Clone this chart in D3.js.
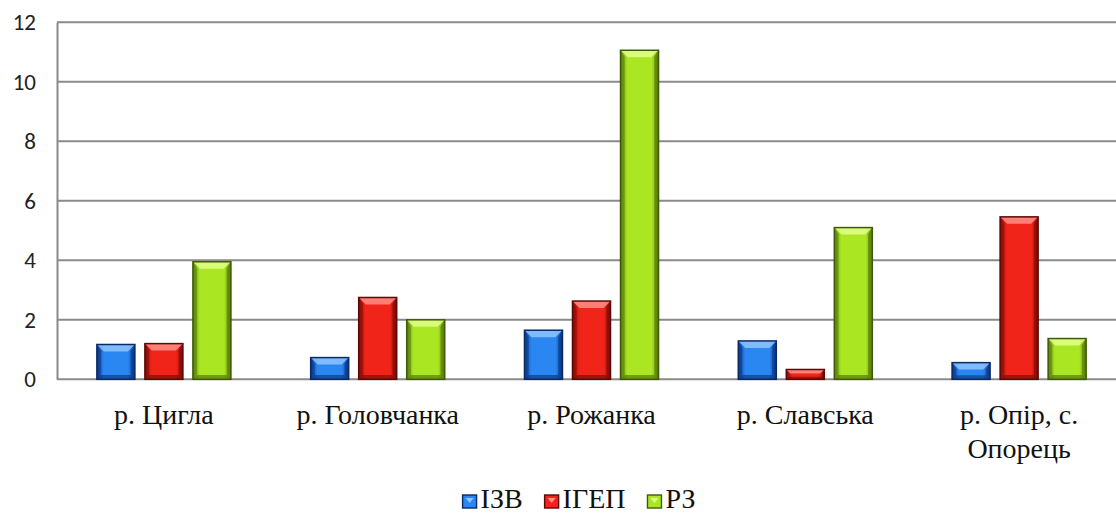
<!DOCTYPE html>
<html>
<head>
<meta charset="utf-8">
<script src="https://cdn.jsdelivr.net/npm/d3@7"></script>
<style>
  html, body { margin: 0; padding: 0; background: #fff; }
  svg { display: block; }
  .serif { font-family: "Liberation Serif", "Times New Roman", serif; }
  .num { font-family: Carlito, Calibri, Lato, sans-serif; }
</style>
</head>
<body>
<svg id="chart" width="1116" height="516"></svg>
<script>
// Rivers (categories) and index values for each series
const categories = ["р. Цигла", "р. Головчанка", "р. Рожанка", "р. Славська", "р. Опір, с. Опорець"];
const seriesNames = ["ІЗВ", "ІГЕП", "РЗ"];
const izv  = [1.17, 0.73, 1.65, 1.29, 0.56];
const igep = [1.20, 2.75, 2.63, 0.33, 5.46];
const rz   = [3.95, 2.00, 11.06, 5.10, 1.37];
const yTicks = [0, 2, 4, 6, 8, 10, 12];

const seriesValues = [izv, igep, rz];
const palette = [
  { mid: "#2a86f0", edge: "#0b3f9c", light: "#8fc4ff", dark: "#082f73", stroke: "#0a2a66" },
  { mid: "#f02418", edge: "#9c0f0a", light: "#ff9088", dark: "#6e0805", stroke: "#5c0805" },
  { mid: "#abe622", edge: "#6a9610", light: "#e0ff8a", dark: "#4a6a08", stroke: "#3f5a08" }
];

const svg = d3.select("#chart");
const W = 1116;
const plot = { left: 57, right: 1126, top: 22.3, bottom: 379.3 };

const y = d3.scaleLinear().domain([0, 12]).range([plot.bottom, plot.top]);
const x = d3.scaleBand().domain(categories).range([plot.left, plot.right]).padding(0);
const groupW = x.bandwidth() * 0.627;
const xs = d3.scaleBand().domain(seriesNames).range([0, groupW]).paddingInner(0.2083);

// gradients
const defs = svg.append("defs");
palette.forEach((p, i) => {
  const g = defs.append("linearGradient").attr("id", "g" + i)
    .attr("x1", 0).attr("x2", 1).attr("y1", 0).attr("y2", 0);
  g.append("stop").attr("offset", 0).attr("stop-color", p.edge);
  g.append("stop").attr("offset", 0.18).attr("stop-color", p.mid);
  g.append("stop").attr("offset", 0.82).attr("stop-color", p.mid);
  g.append("stop").attr("offset", 1).attr("stop-color", p.edge);
});

// gridlines
const grid = svg.append("g");
grid.selectAll("line").data(yTicks).join("line")
  .attr("x1", plot.left).attr("x2", W)
  .attr("y1", d => y(d)).attr("y2", d => y(d))
  .attr("stroke", "#8a8a8a").attr("stroke-width", 2);

// y axis
const yAxis = svg.append("g").attr("transform", `translate(${plot.left},0)`)
  .call(d3.axisLeft(y).tickValues(yTicks).tickSize(0).tickPadding(21));
yAxis.attr("font-family", null);
yAxis.select(".domain").attr("stroke", "#8a8a8a").attr("stroke-width", 2);
yAxis.selectAll("text").attr("class", "num")
  .attr("font-size", 23).attr("fill", "#222");

// beveled bars
function bevelBar(g, bx, by, bw, bh, si) {
  const p = palette[si];
  const b = Math.min(7, bh / 2.4);
  g.append("rect").attr("x", bx).attr("y", by).attr("width", bw).attr("height", bh)
    .attr("fill", `url(#g${si})`);
  // top facet
  g.append("polygon")
    .attr("points", [[bx, by], [bx + bw, by], [bx + bw - b, by + b], [bx + b, by + b]].join(" "))
    .attr("fill", p.light).attr("opacity", 0.85);
  // side facets
  g.append("polygon")
    .attr("points", [[bx, by], [bx + b * 0.6, by + b], [bx + b * 0.6, by + bh - b * 0.6], [bx, by + bh]].join(" "))
    .attr("fill", p.dark).attr("opacity", 0.45);
  g.append("polygon")
    .attr("points", [[bx + bw, by], [bx + bw - b * 0.6, by + b], [bx + bw - b * 0.6, by + bh - b * 0.6], [bx + bw, by + bh]].join(" "))
    .attr("fill", p.dark).attr("opacity", 0.55);
  // bottom facet
  g.append("polygon")
    .attr("points", [[bx, by + bh], [bx + bw, by + bh], [bx + bw - b * 0.6, by + bh - b * 0.6], [bx + b * 0.6, by + bh - b * 0.6]].join(" "))
    .attr("fill", p.dark).attr("opacity", 0.6);
  g.append("rect").attr("x", bx).attr("y", by).attr("width", bw).attr("height", bh)
    .attr("fill", "none").attr("stroke", p.stroke).attr("stroke-width", 1.5);
}

const bars = svg.append("g");
categories.forEach((c, ci) => {
  const gx = x(c) + (x.bandwidth() - groupW) / 2;
  seriesNames.forEach((s, si) => {
    const v = seriesValues[si][ci];
    const bx = gx + xs(s);
    const by = y(v);
    bevelBar(bars, bx, by, xs.bandwidth(), y(0) - by, si);
  });
});

// category labels
const labelLines = categories.map(c => c === "р. Опір, с. Опорець" ? ["р. Опір, с.", "Опорець"] : [c]);
const xl = svg.append("g");
categories.forEach((c, ci) => {
  const t = xl.append("text").attr("class", "serif")
    .attr("x", x(c) + x.bandwidth() / 2).attr("y", 424)
    .attr("text-anchor", "middle")
    .attr("font-size", 28).attr("fill", "#111");
  labelLines[ci].forEach((ln, li) => {
    t.append("tspan").attr("x", x(c) + x.bandwidth() / 2).attr("dy", li === 0 ? 0 : 34).text(ln);
  });
});

// legend
const legend = svg.append("g");
let lx = 0;
seriesNames.forEach((s, si) => {
  const it = legend.append("g");
  const p = palette[si];
  it.append("rect").attr("x", 0).attr("y", -13).attr("width", 14).attr("height", 13)
    .attr("fill", p.mid).attr("stroke", p.stroke).attr("stroke-width", 1.4);
  it.append("polygon").attr("points", "3,-10 11,-10 7,-5").attr("fill", p.light);
  const tx = it.append("text").attr("class", "serif").attr("x", 18).attr("y", 0)
    .attr("font-size", 28).attr("fill", "#111").text(s);
  const w = 18 + tx.node().getComputedTextLength();
  it.attr("transform", `translate(${lx},0)`);
  lx += w + 22;
});
const totalW = lx - 22;
legend.attr("transform", `translate(${579 - totalW / 2},508)`);
</script>
</body>
</html>
